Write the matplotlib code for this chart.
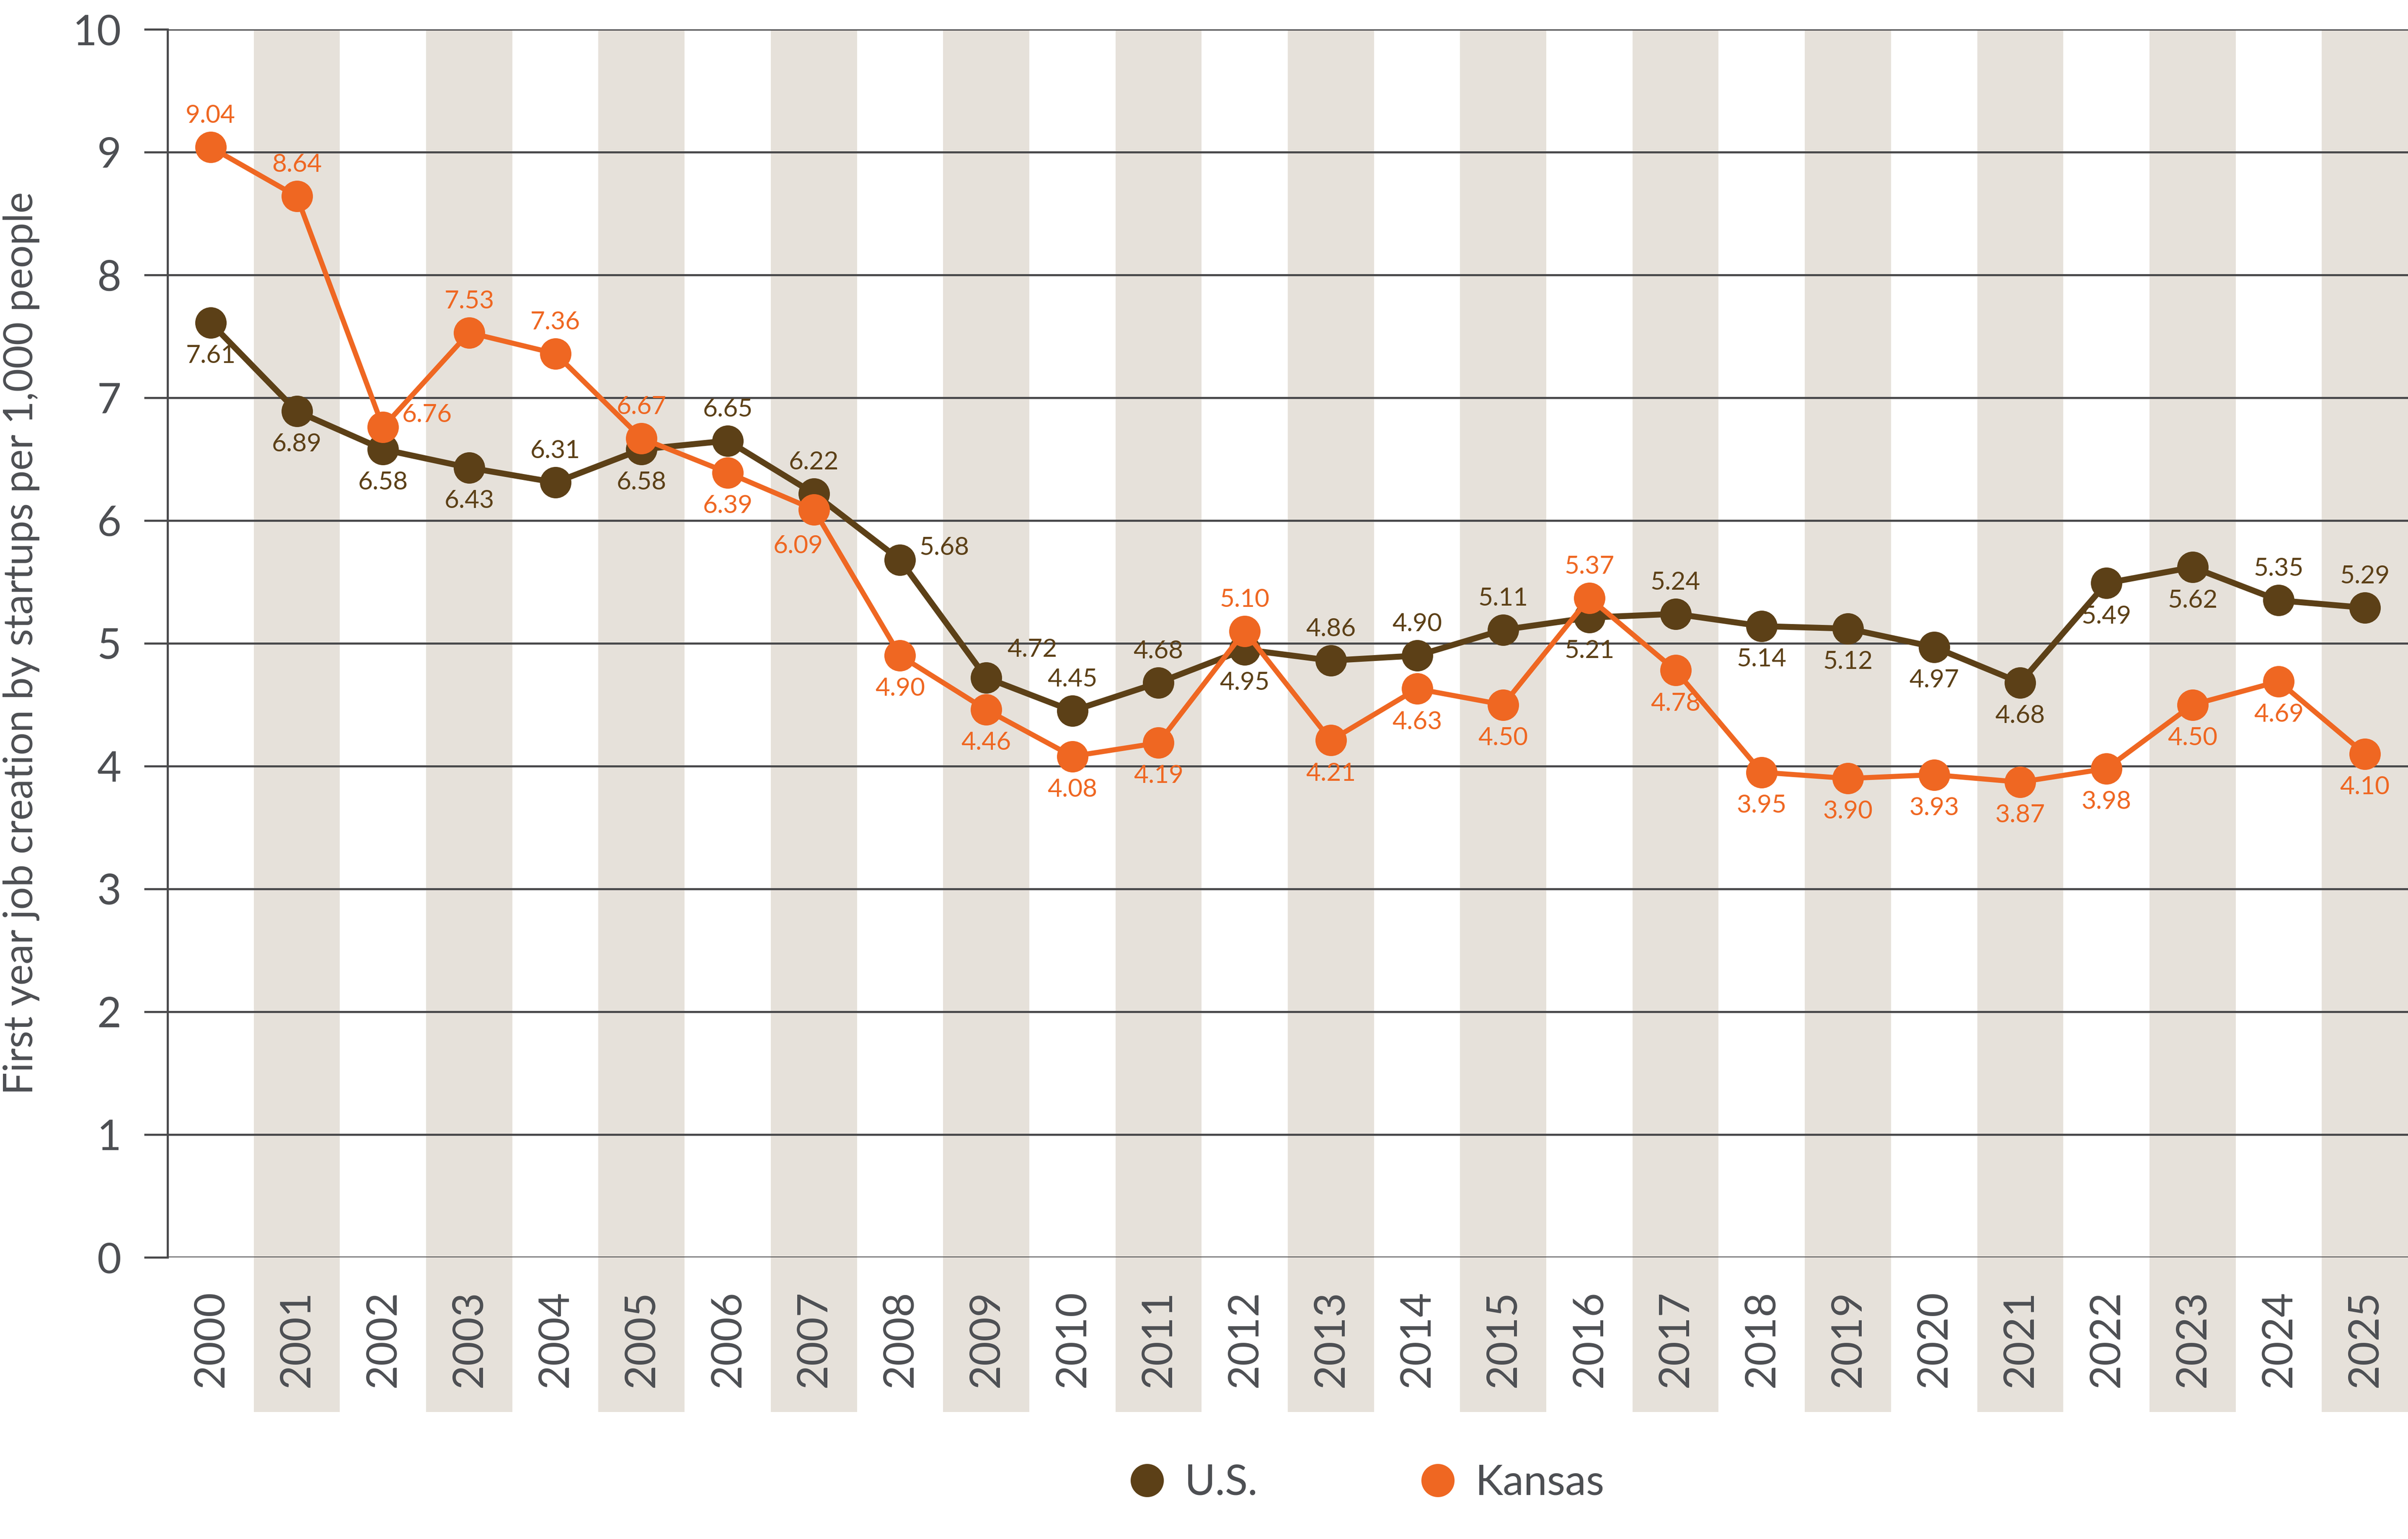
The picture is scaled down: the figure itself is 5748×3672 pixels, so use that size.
import matplotlib
matplotlib.use("Agg")
import matplotlib.pyplot as plt
from matplotlib.lines import Line2D

plt.rcParams['font.family'] = ['Lato', 'DejaVu Sans']

years = list(range(2000, 2026))
us = [7.61, 6.89, 6.58, 6.43, 6.31, 6.58, 6.65, 6.22, 5.68, 4.72, 4.45, 4.68, 4.95,
      4.86, 4.90, 5.11, 5.21, 5.24, 5.14, 5.12, 4.97, 4.68, 5.49, 5.62, 5.35, 5.29]
kansas = [9.04, 8.64, 6.76, 7.53, 7.36, 6.67, 6.39, 6.09, 4.90, 4.46, 4.08, 4.19, 5.10,
          4.21, 4.63, 4.50, 5.37, 4.78, 3.95, 3.90, 3.93, 3.87, 3.98, 4.50, 4.69, 4.10]
yticks = list(range(0, 11))

# where each value label sits relative to its point
us_pos = ['b', 'b', 'b', 'b', 'a', 'b', 'a', 'a', 'r', 'ar', 'a', 'a', 'b',
          'a', 'a', 'a', 'b', 'a', 'b', 'b', 'b', 'b', 'b', 'b', 'a', 'a']
ks_pos = ['a', 'a', 'r', 'a', 'a', 'a', 'b', 'bl', 'b', 'b', 'b', 'b', 'a',
          'b', 'b', 'b', 'a', 'b', 'b', 'b', 'b', 'b', 'b', 'b', 'b', 'b']
offsets = {'a': (0, 18, 'center'), 'b': (0, -19, 'center'), 'bl': (-9, -21, 'center'),
           'r': (11, 7, 'left'), 'ar': (12, 16, 'left')}

US_COL = '#5c4017'
KS_COL = '#ef6722'
BAND = '#e6e1da'
GRID = '#4a4a4c'
TXT = '#4d4f53'

fig = plt.figure(figsize=(5748 / 300, 3672 / 300), dpi=300)
ax = fig.add_axes([400 / 5748, 1 - 3000 / 3672, 1 - 400 / 5748, 2930 / 3672])

x = list(range(len(years)))
for i in x:
    if years[i] % 2 == 1:
        ax.axvspan(i - 0.5, i + 0.5, ymin=-0.126, ymax=1, color=BAND, lw=0,
                   clip_on=False, zorder=0)

for yv in yticks:
    ax.axhline(yv, color=GRID, lw=1.2, zorder=1)

ax.plot(x, us, color=US_COL, lw=3.4, marker='o', ms=18, mec='none', zorder=3, clip_on=False)
ax.plot(x, kansas, color=KS_COL, lw=2.9, marker='o', ms=18, mec='none', zorder=4, clip_on=False)

for vals, pos, col in [(us, us_pos, US_COL), (kansas, ks_pos, KS_COL)]:
    for i, v in enumerate(vals):
        dx, dy, ha = offsets[pos[i]]
        ax.annotate(f"{v:.2f}", (i, v), xytext=(dx, dy), textcoords='offset points',
                    ha=ha, va='center', fontsize=14.5, color=col, zorder=5)

ax.set_xlim(-0.5, len(years) - 0.5)
ax.set_ylim(0, 10)
ax.set_yticks(yticks)
ax.set_yticklabels([str(t) for t in yticks], fontsize=24, color=TXT)
ax.set_xticks(x)
ax.set_xticklabels([str(y) for y in years], rotation=90, fontsize=24, color=TXT, va='top')
ax.tick_params(axis='y', length=13.5, width=1.2, color=GRID, pad=13)
ax.tick_params(axis='x', length=0, pad=19)
for s in ['top', 'right', 'bottom']:
    ax.spines[s].set_visible(False)
ax.spines['left'].set_color(GRID)
ax.spines['left'].set_linewidth(1.2)
ax.set_facecolor('none')

fig.text(0.0089, 1 - 1535 / 3672, "First year job creation by startups per 1,000 people",
         rotation=90, ha='center', va='center', fontsize=23, color=TXT)

handles = [Line2D([], [], ls='none', marker='o', ms=19, color=US_COL, mec='none', label='U.S.'),
           Line2D([], [], ls='none', marker='o', ms=19, color=KS_COL, mec='none', label='Kansas')]
leg = fig.legend(handles=handles, loc='center', bbox_to_anchor=(0.567, 1 - 3538 / 3672), ncol=2,
                 frameon=False, fontsize=24, handlelength=1, handletextpad=0.4,
                 columnspacing=3.8, borderpad=0)
for t in leg.get_texts():
    t.set_color(TXT)

fig.savefig('out.png', dpi=300)
